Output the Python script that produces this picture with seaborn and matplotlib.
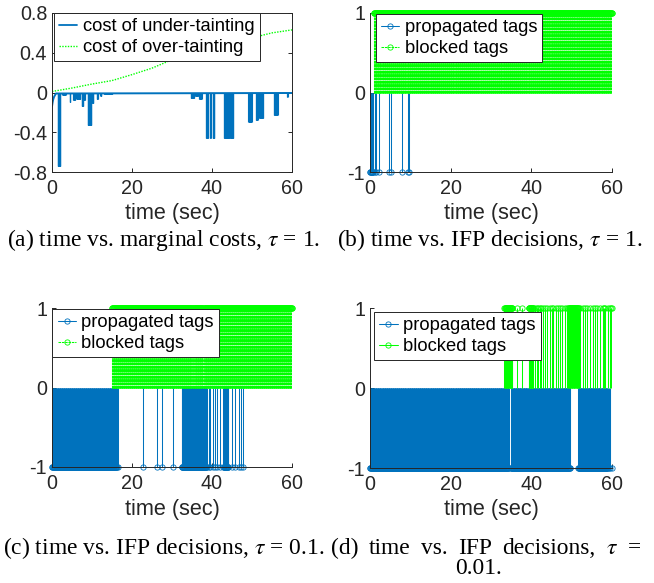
import numpy as np
import seaborn as sns
import matplotlib
matplotlib.use("Agg")
import matplotlib.pyplot as plt
from matplotlib.lines import Line2D
from matplotlib.legend_handler import HandlerLine2D

# ---------------- data ----------------
time_ticks = [0, 20, 40, 60]
cost_ticks = [-0.8, -0.4, 0, 0.4, 0.8]
cost_tick_labels = ["-0.8", "-0.4", "0", "0.4", "0.8"]
decision_ticks = [-1, 0, 1]
decision_tick_labels = ["-1", "0", "1"]

# (a) marginal costs
over_t = [0, 5, 10, 15, 20, 25, 30, 35, 40, 45, 50, 55, 60]
over_cost = [0.01, 0.045, 0.085, 0.12, 0.18, 0.245, 0.33, 0.38, 0.43, 0.49, 0.55, 0.60, 0.63]
under_t = [0.0, 0.15, 0.3, 0.5, 0.7, 1.0, 60.0]
under_cost = [-0.14, -0.10, -0.07, -0.045, -0.03, -0.01, -0.005]
spike_start = [1.4, 2.6, 4.4, 5.3, 6.1, 7.4, 7.9, 8.9, 10.0, 11.2, 12.1, 13.0,
               34.7, 35.8, 36.8, 38.5, 39.5, 40.2, 43.0, 44.5, 49.1, 51.0, 51.8, 55.5, 58.8]
spike_end = [2.1, 3.4, 4.6, 5.7, 7.0, 7.8, 8.2, 9.8, 10.3, 11.4, 12.3, 15.0,
             35.5, 36.5, 37.4, 39.0, 39.7, 40.6, 44.3, 45.3, 49.9, 51.4, 52.7, 56.4, 58.9]
spike_depth = [-0.74, -0.03, -0.10, -0.08, -0.07, -0.135, -0.08, -0.33, -0.11, -0.07, -0.04, -0.02,
               -0.06, -0.04, -0.065, -0.455, -0.455, -0.455, -0.455, -0.455, -0.30, -0.28, -0.26, -0.225, -0.05]

# IFP decisions: runs of consecutive samples (start, end) plus isolated samples
sample_dt = 0.1
b_prop_runs = [(0.0, 0.8)]
b_prop_times = [1.2, 1.6, 2.2, 4.6, 5.2, 7.9, 9.4, 9.6]
b_block_runs = [(1.0, 60.0)]
b_block_times = []

c_prop_runs = [(0.0, 16.2), (32.4, 38.7), (42.8, 44.1)]
c_prop_times = [16.5, 22.8, 26.2, 27.6, 30.3, 39.2, 39.6, 40.2, 40.8, 41.3, 41.9,
                45.0, 45.8, 46.7, 47.3, 47.7]
c_block_runs = [(15.0, 34.8), (35.0, 35.3), (35.5, 37.6), (37.8, 38.0), (38.2, 60.0)]
c_block_times = []

d_prop_runs = [(0.0, 34.4), (34.9, 49.6), (51.6, 58.8)]
d_prop_times = [59.0, 59.3, 59.6, 60.0]
d_block_runs = [(33.3, 35.3), (39.3, 40.5), (49.2, 51.7)]
d_block_times = [36.4, 37.6, 40.9, 41.3, 41.7, 42.1, 42.5, 42.9, 43.4, 43.9, 44.6, 45.0, 45.4,
                 46.1, 46.7, 47.2, 47.7, 48.3, 48.8, 52.1, 52.8, 53.3, 53.9, 54.6, 55.2, 55.8,
                 56.4, 57.0, 57.8, 58.0, 58.3, 59.1, 59.4, 59.7, 59.9]

captions = ["(a) time vs. marginal costs, $\\tau$ = 1.",
            "(b) time vs. IFP decisions, $\\tau$ = 1.",
            "(c) time vs. IFP decisions, $\\tau$ = 0.1."]
caption_d_words = ["(d)", "time", "vs.", "IFP", "decisions,", "$\\tau$", "="]
caption_d_tail = "0.01."

# ---------------- style ----------------
sns.set_theme(style="white")
plt.rcParams['font.family'] = ['Liberation Sans', 'DejaVu Sans']
plt.rcParams['mathtext.fontset'] = 'stix'
plt.rcParams['lines.scale_dashes'] = False

BLUE = '#0072BD'
GREEN = '#00FF00'
AXC = '#262626'
W, H = 654, 583

fig = plt.figure(figsize=(W / 100, H / 100), dpi=100)


def add_axes(left, top, right, bottom):
    return fig.add_axes([left / W, 1 - bottom / H, (right - left) / W, (bottom - top) / H])


ax_a = add_axes(52, 13, 292, 172)
ax_b = add_axes(370, 13, 612, 172)
ax_c = add_axes(52, 308, 292, 467)
ax_d = add_axes(370, 308, 612, 468)


def style(ax, ylim, yticks, ylabels, box):
    ax.set_xlim(0, 60)
    ax.set_ylim(*ylim)
    ax.set_xticks(time_ticks)
    ax.set_xticklabels([str(v) for v in time_ticks])
    ax.set_yticks(yticks)
    ax.set_yticklabels(ylabels)
    ax.tick_params(direction='in', length=2.8, width=0.7, colors=AXC, labelsize=14.2,
                   bottom=True, left=True, top=box, right=box)
    ax.tick_params(axis='x', pad=5)
    ax.tick_params(axis='y', pad=3.5)
    for s in ax.spines.values():
        s.set_color(AXC)
        s.set_linewidth(0.7)
    if not box:
        ax.spines['top'].set_visible(False)
        ax.spines['right'].set_visible(False)
    ax.set_xlabel('time (sec)', fontsize=15.6, color=AXC)
    h = ax.get_position().height * H
    ax.xaxis.set_label_coords(0.5, -42 / h)
    ax.xaxis.label.set_va('center')


def decode(runs, extra):
    parts = [np.arange(s, e + sample_dt / 2, sample_dt) for s, e in runs]
    parts.append(np.asarray(extra, dtype=float))
    return np.unique(np.round(np.concatenate(parts), 3))


def stem(ax, t, level, color, ls):
    ax.vlines(t, 0, level, colors=color, linewidths=0.75, linestyles=ls)
    ax.plot(t, np.full(t.shape, float(level)), ls='none', marker='o', ms=3.8, mfc='none',
            mec=color, mew=0.6, clip_on=False)


class EndMarker(HandlerLine2D):
    def get_xdata(self, legend, xdescent, ydescent, width, height, fontsize):
        xdata, _ = super().get_xdata(legend, xdescent, ydescent, width, height, fontsize)
        return xdata, [xdata[-1]]


def legend(ax, handles, labels, fx, fy):
    leg = ax.legend(handles, labels, loc='upper left', bbox_to_anchor=(fx, fy), borderaxespad=0,
                    fontsize=13.2, frameon=True, fancybox=False, framealpha=1, edgecolor=AXC,
                    handlelength=1.0, handletextpad=0.3, borderpad=0.28, labelspacing=0.22,
                    handler_map={Line2D: EndMarker()})
    leg.get_frame().set_linewidth(0.7)
    for tx in leg.get_texts():
        tx.set_color('black')
    return leg


DOTS = (0, (1.8, 0.6))

# ---- (a) ----
sns.lineplot(x=over_t, y=over_cost, ax=ax_a, color=GREEN, lw=1.0, linestyle=(0, (1, 1)))
sns.lineplot(x=under_t, y=under_cost, ax=ax_a, color=BLUE, lw=1.4)
for s, e, d in zip(spike_start, spike_end, spike_depth):
    tt = np.arange(s, e + sample_dt / 2, sample_dt / 2)
    ax_a.vlines(tt, -0.005, d, colors=BLUE, linewidths=0.8)
style(ax_a, (-0.8, 0.8), cost_ticks, cost_tick_labels, True)
legend(ax_a,
       [Line2D([], [], color=BLUE, lw=1.3), Line2D([], [], color=GREEN, lw=1.0, ls=(0, (1, 1)))],
       ['cost of under-tainting', 'cost of over-tainting'], 0.008, 1.0)


def decisions(ax, prop_runs, prop_times, block_runs, block_times, block_ls, fx, fy):
    tp = decode(prop_runs, prop_times)
    tb = decode(block_runs, block_times)
    stem(ax, tp, -1, BLUE, 'solid')
    stem(ax, tb, 1, GREEN, block_ls)
    style(ax, (-1, 1), decision_ticks, decision_tick_labels, False)
    legend(ax,
           [Line2D([], [], color=BLUE, lw=0.75, marker='o', ms=3.8, mfc='none', mew=0.6),
            Line2D([], [], color=GREEN, lw=0.75, ls=block_ls, marker='o', ms=3.8, mfc='none', mew=0.6)],
           ['propagated tags', 'blocked tags'], fx, fy)


decisions(ax_b, b_prop_runs, b_prop_times, b_block_runs, b_block_times, DOTS, 0.024, 0.994)
decisions(ax_c, c_prop_runs, c_prop_times, c_block_runs, c_block_times, DOTS, 0.002, 0.994)
decisions(ax_d, d_prop_runs, d_prop_times, d_block_runs, d_block_times, 'solid', 0.017, 0.975)

# ---- captions ----
CAP = dict(family=['Liberation Serif', 'DejaVu Serif'], fontsize=16.9, color='black', va='center')
fig.text(7 / W, 1 - 240 / H, captions[0], ha='left', **CAP)
fig.text(337 / W, 1 - 240 / H, captions[1], ha='left', **CAP)
fig.text(3 / W, 1 - 548 / H, captions[2], ha='left', **CAP)

renderer = fig.canvas.get_renderer()
words = [fig.text(0, 1 - 548 / H, w, ha='left', **CAP) for w in caption_d_words]
widths = [t.get_window_extent(renderer).width for t in words]
x0, x1 = 331, 641
gap = (x1 - x0 - sum(widths)) / (len(words) - 1)
x = x0
for t, w in zip(words, widths):
    t.set_x(x / W)
    x += w + gap
fig.text(478 / W, 1 - 568 / H, caption_d_tail, ha='center', **CAP)

fig.savefig('out.png', dpi=100)
